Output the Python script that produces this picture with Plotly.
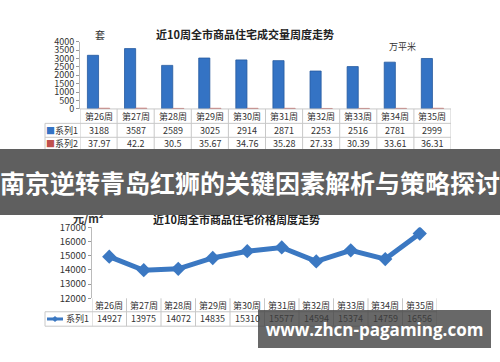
import plotly.graph_objects as go

W, H = 500, 362

weeks = ["第26周", "第27周", "第28周", "第29周", "第30周",
         "第31周", "第32周", "第33周", "第34周", "第35周"]
deals_units = [3188, 3587, 2589, 3025, 2914, 2871, 2253, 2516, 2781, 2999]
deals_area = [37.97, 42.2, 30.5, 35.67, 34.76, 35.28, 27.33, 30.39, 33.61, 36.31]
prices = [14927, 13975, 14072, 14835, 15310, 15577, 14594, 15374, 14759, 16556]

title_top = "近10周全市商品住宅成交量周度走势"
title_bottom = "近10周全市商品住宅价格周度走势"
series_names = ["系列1", "系列2"]
banner_text = "南京逆转青岛红狮的关键因素解析与策略探讨"
watermark_text = "www.zhcn-pagaming.com"

BLUE = "#3473c4"
RED = "#c0504d"
LINEBLUE = "#3b78c2"
GRID = "#c8c8c8"
FONT = "Noto Sans CJK SC, DejaVu Sans, sans-serif"


def px(x):
    return x / W


def py(y):
    return 1 - y / H


fig = go.Figure()
fig.add_trace(go.Bar(x=list(range(len(weeks))), y=deals_units, name=series_names[0],
                     marker=dict(color=BLUE, line=dict(color="#25599e", width=0.8)),
                     xaxis="x", yaxis="y"))
fig.add_trace(go.Bar(x=list(range(len(weeks))), y=deals_area, name=series_names[1],
                     marker=dict(color=RED, line=dict(color=RED, width=0.8)),
                     xaxis="x", yaxis="y"))
fig.add_trace(go.Scatter(x=list(range(len(weeks))), y=prices, mode="lines+markers",
                         name=series_names[0],
                         line=dict(color=LINEBLUE, width=5),
                         marker=dict(symbol="diamond", size=11, color=LINEBLUE),
                         xaxis="x2", yaxis="y2"))

shapes = []
ann = []


def hline(y, x0, x1):
    shapes.append(dict(type="line", xref="paper", yref="paper", x0=px(x0), x1=px(x1),
                       y0=py(y), y1=py(y), line=dict(color=GRID, width=1)))


def vline_data(xref, x, y0, y1):
    shapes.append(dict(type="line", xref=xref, yref="paper", x0=x, x1=x,
                       y0=py(y0), y1=py(y1), line=dict(color=GRID, width=1)))


def vline(x, y0, y1):
    shapes.append(dict(type="line", xref="paper", yref="paper", x0=px(x), x1=px(x),
                       y0=py(y0), y1=py(y1), line=dict(color=GRID, width=1)))


def text(x, y, s, size=9, xref="paper", color="#333", bold=False):
    ann.append(dict(x=x if xref != "paper" else px(x), y=py(y), xref=xref, yref="paper",
                    text=("<b>%s</b>" % s) if bold else s, showarrow=False,
                    font=dict(size=size, color=color, family=FONT),
                    xanchor="center", yanchor="middle"))


# ---- top table ----
hline(105, 80, 451)
hline(120, 45, 451)
hline(134.5, 45, 451)
hline(148.5, 45, 451)
for i in range(len(weeks) + 1):
    vline_data("x", i - 0.5, 105, 148.5)
vline(45, 120, 148.5)
for i, w in enumerate(weeks):
    text(i, 112.5, w, xref="x")
    text(i, 127, str(deals_units[i]), xref="x")
    text(i, 141.2, str(deals_area[i]), xref="x")
text(62, 127, "<span style='color:%s'>■</span>%s" % (BLUE, series_names[0]))
text(62, 141.2, "<span style='color:%s'>■</span>%s" % (RED, series_names[1]))

text(245, 27, title_top, size=11, color="#222", bold=True)
text(100, 28, "套", size=10, color="#333")
text(402, 40, "万平米", size=9, color="#333")

# ---- bottom table ----
hline(316, 45, 437)
hline(331, 45, 437)
for i in range(len(weeks) + 1):
    vline_data("x2", i - 0.5, 302, 331)
vline(45, 316, 331)
for i, w in enumerate(weeks):
    text(i, 309, w, xref="x2")
    text(i, 323.5, str(prices[i]), xref="x2")
text(77, 323.5, series_names[0])
shapes.append(dict(type="line", xref="paper", yref="paper", x0=px(47), x1=px(63),
                   y0=py(323.5), y1=py(323.5), line=dict(color=LINEBLUE, width=3)))
dx, dy = 3.2, 3.2
cx, cy = 55, 323.5
shapes.append(dict(type="path", xref="paper", yref="paper",
                   path="M %f,%f L %f,%f L %f,%f L %f,%f Z" % (
                       px(cx - dx), py(cy), px(cx), py(cy - dy),
                       px(cx + dx), py(cy), px(cx), py(cy + dy)),
                   fillcolor=LINEBLUE, line=dict(color=LINEBLUE, width=0)))

text(236, 219, title_bottom, size=11, color="#222", bold=True)
text(88, 218, "元/m²", size=11, color="#333", bold=True)

# ---- overlays ----
ann.append(dict(x=0.5, y=py(181.5), xref="paper", yref="paper", text="<b>%s</b>" % banner_text,
                showarrow=False, width=500, height=66, borderpad=0, borderwidth=0,
                bgcolor="#5f5f5f",
                font=dict(size=25, color="white", family="Noto Sans CJK SC"),
                xanchor="center", yanchor="middle"))
ann.append(dict(x=px(374.5), y=py(334), xref="paper", yref="paper", text="<b>%s</b>" % watermark_text,
                showarrow=False, width=233, height=38, borderpad=0, borderwidth=0,
                bgcolor="rgba(62,62,62,0.78)",
                font=dict(size=17, color="white", family="Open Sans"),
                xanchor="center", yanchor="middle"))

axis_common = dict(showgrid=False, zeroline=False)
fig.update_layout(
    width=W, height=H, margin=dict(l=0, r=0, t=0, b=0),
    paper_bgcolor="white", plot_bgcolor="white", showlegend=False,
    barmode="group", bargap=0.4, bargroupgap=0,
    xaxis=dict(domain=[px(80), px(451)], range=[-0.5, 9.5], showticklabels=False,
               ticks="", showline=False, **axis_common),
    yaxis=dict(domain=[py(105), py(35)], range=[0, 4000], dtick=500, ticks="outside",
               ticklen=3, tickcolor="#999", showline=True, linecolor="#bbb",
               tickformat="d",
               tickfont=dict(size=9, color="#333", family=FONT), **axis_common),
    xaxis2=dict(domain=[px(92), px(437)], range=[-0.5, 9.5], showticklabels=False,
                ticks="", showline=False, anchor="y2", **axis_common),
    yaxis2=dict(domain=[py(302), py(228)], range=[12000, 17000], dtick=1000, ticks="outside",
                ticklen=3, tickcolor="#999", showline=True, linecolor="#bbb", anchor="x2",
                tickformat="d",
                tickfont=dict(size=9.5, color="#333", family=FONT), **axis_common),
    shapes=shapes, annotations=ann,
)

fig.write_html("out.html")
